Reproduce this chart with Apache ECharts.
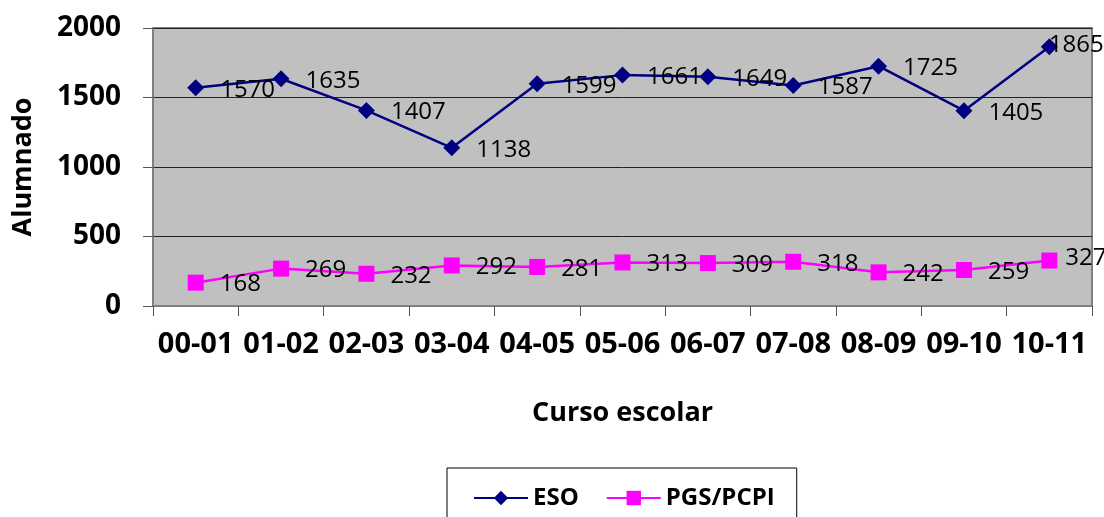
<!DOCTYPE html>
<html>
<head>
<meta charset="utf-8">
<script src="https://cdn.jsdelivr.net/npm/echarts@6/dist/echarts.min.js"></script>
<style>html,body{margin:0;padding:0;background:#fff}#c{width:1104px;height:517px}</style>
</head>
<body>
<div id="c"></div>
<script>
const categories = ['00-01','01-02','02-03','03-04','04-05','05-06','06-07','07-08','08-09','09-10','10-11'];
const esoValues = [1570,1635,1407,1138,1599,1661,1649,1587,1725,1405,1865];
const pgsValues = [168,269,232,292,281,313,309,318,242,259,327];
const yTicks = {min:0, max:2000, interval:500};

const FONT = '"Open Sans", "Noto Sans", sans-serif';
const chart = echarts.init(document.getElementById('c'), null, {renderer:'canvas'});
const lbl = {show:true, position:'right', distance:16, color:'#000', fontFamily:FONT, fontSize:24, offset:[0,2]};
function withLast(arr, lastLabel){
  return arr.map((v,i)=> i===arr.length-1 ? {value:v, label:lastLabel} : v);
}
chart.setOption({
  backgroundColor:'#fff',
  animation:false,
  grid:{left:153, right:12, top:28, bottom:211, show:true, backgroundColor:'#c0c0c0', borderColor:'#808080', borderWidth:2},
  legend:{
    left:447, top:468, padding:[18,22,40,26], itemGap:27, itemWidth:54, itemHeight:18,
    borderColor:'#000', borderWidth:1, backgroundColor:'#fff',
    textStyle:{fontFamily:FONT, fontWeight:'bold', fontSize:24, color:'#000'},
    data:['ESO','PGS/PCPI']
  },
  xAxis:{
    type:'category', data:categories, boundaryGap:true,
    name:'Curso escolar', nameLocation:'middle', nameGap:94,
    nameTextStyle:{fontFamily:FONT, fontWeight:'bold', fontSize:27, color:'#000'},
    axisLine:{show:true, lineStyle:{color:'#808080', width:2}},
    axisTick:{show:true, length:10, lineStyle:{color:'#555', width:1}},
    axisLabel:{margin:24, fontFamily:FONT, fontWeight:'bold', fontSize:29, color:'#000', interval:0},
    splitLine:{show:false}
  },
  yAxis:{
    type:'value', min:yTicks.min, max:yTicks.max, interval:yTicks.interval,
    name:'Alumnado', nameLocation:'middle', nameGap:116, nameRotate:90,
    nameTextStyle:{fontFamily:FONT, fontWeight:'bold', fontSize:27, color:'#000'},
    axisLine:{show:true, lineStyle:{color:'#808080', width:2}},
    axisTick:{show:true, length:10, lineStyle:{color:'#555', width:1}},
    axisLabel:{margin:32, fontFamily:FONT, fontWeight:'bold', fontSize:28, color:'#000', formatter:v=>String(v)},
    splitLine:{show:true, lineStyle:{color:'#222', width:1}}
  },
  series:[
    {name:'ESO', type:'line', data:withLast(esoValues,{distance:-9, offset:[0,-2]}), symbol:'diamond', symbolSize:17,
     itemStyle:{color:'#000080'}, lineStyle:{color:'#000080', width:2.5}, label:lbl},
    {name:'PGS/PCPI', type:'line', data:withLast(pgsValues,{distance:8, offset:[0,-2]}), symbol:'rect', symbolSize:16,
     itemStyle:{color:'#ff00ff'}, lineStyle:{color:'#ff00ff', width:2.5}, label:lbl}
  ]
});
</script>
</body>
</html>
